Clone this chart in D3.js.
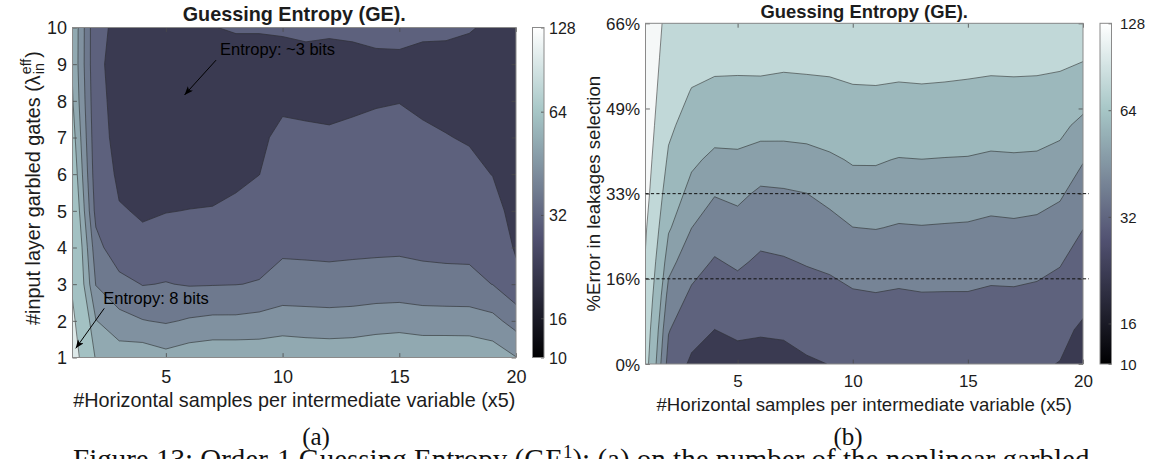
<!DOCTYPE html>
<html>
<head>
<meta charset="utf-8">
<title>Guessing Entropy (GE) contour maps</title>
<script src="https://cdn.jsdelivr.net/npm/d3@7"></script>
<style>
html,body{margin:0;padding:0;background:#ffffff;overflow:hidden;}
svg{display:block;}
</style>
</head>
<body>
<svg id="fig" width="1151" height="459" xmlns="http://www.w3.org/2000/svg"></svg>
<script>
// ======================= DATA =======================
const samplesX = [1,2,3,4,5,6,7,8,9,10,11,12,13,14,15,16,17,18,19,20];
const gatesY = [1,2,3,4,5,6,7,8,9,10];
const errorPctY = [0,6.6,13.2,19.8,26.4,33,39.6,46.2,52.8,59.4,66];

// log2(GE); one inner array per x sample, bottom -> top (y = 1..10)
const geBitsA = [
  [6.74,6.60,6.43,6.40,6.30,6.18,6.07,5.97,5.92,5.93],
  [5.92,5.71,5.44,5.30,5.12,5.05,5.02,5.00,4.98,4.98],
  [5.85,5.52,5.30,5.006,4.96,4.923,4.90,4.896,4.90,4.924],
  [5.867,5.46,5.19,4.977,4.938,4.88,4.83,4.80,4.78,4.78],
  [5.783,5.424,5.209,5.074,4.942,4.85,4.78,4.72,4.70,4.70],
  [5.852,5.473,5.184,5.067,4.955,4.85,4.76,4.70,4.68,4.68],
  [5.885,5.50,5.189,5.076,4.964,4.853,4.76,4.72,4.80,4.944],
  [5.885,5.50,5.195,5.097,4.998,4.90,4.80,4.75,4.85,4.97],
  [5.874,5.526,5.212,5.118,5.033,4.948,4.919,4.78,4.85,4.97],
  [5.892,5.567,5.288,5.162,5.102,5.043,4.99,4.92,4.88,4.973],
  [5.867,5.558,5.281,5.158,5.098,5.038,4.977,4.917,4.86,5.008],
  [5.856,5.551,5.27,5.155,5.093,5.032,4.971,4.91,4.86,4.989],
  [5.865,5.56,5.282,5.16,5.101,5.042,4.983,4.924,4.86,5.008],
  [5.892,5.587,5.297,5.163,5.107,5.051,4.995,4.938,4.87,5.056],
  [5.921,5.596,5.305,5.167,5.112,5.056,5.001,4.946,4.88,5.055],
  [5.888,5.575,5.275,5.156,5.097,5.038,4.979,4.919,4.86,5.008],
  [5.892,5.572,5.265,5.15,5.086,5.022,4.958,4.894,4.84,5.012],
  [5.892,5.567,5.264,5.145,5.074,5.004,4.933,4.86,4.85,4.969],
  [5.846,5.521,5.196,5.112,5.029,4.945,4.86,4.82,4.84,4.906],
  [5.707,5.35,5.017,4.925,4.871,4.82,4.78,4.78,4.80,4.84]
];

// log2(GE); one inner array per x sample, bottom -> top (0% .. 66%)
const geBitsB = [
  [6.409,6.50,6.60,6.69,6.766,6.865,6.925,6.969,7.02,7.064,7.08],
  [5.193,5.328,5.502,5.69,5.883,6.037,6.192,6.33,6.42,6.50,6.58],
  [4.902,5.078,5.254,5.429,5.602,5.752,5.907,6.071,6.235,6.37,6.50],
  [4.794,4.9575,5.121,5.285,5.45,5.615,5.784,5.975,6.181,6.338,6.47],
  [4.843,5.015,5.187,5.354,5.506,5.654,5.796,5.975,6.176,6.334,6.466],
  [4.852,4.989,5.126,5.264,5.41,5.561,5.739,5.945,6.176,6.34,6.472],
  [4.861,5.003,5.145,5.287,5.43,5.574,5.745,5.939,6.155,6.324,6.456],
  [4.925,5.06,5.194,5.328,5.463,5.598,5.7625,5.952,6.168,6.332,6.464],
  [4.965,5.094,5.224,5.362,5.519,5.668,5.81,5.989,6.184,6.338,6.47],
  [5.03,5.154,5.278,5.4325,5.5975,5.733,5.874,6.047,6.221,6.36,6.492],
  [5.03,5.163,5.295,5.452,5.608,5.738,5.874,6.05,6.226,6.364,6.496],
  [5.03,5.154,5.278,5.427,5.584,5.713,5.839,6.021,6.21,6.354,6.486],
  [5.03,5.162,5.294,5.441,5.591,5.72,5.848,6.033,6.219,6.36,6.492],
  [5.03,5.161,5.292,5.437,5.584,5.713,5.839,6.021,6.21,6.354,6.486],
  [5.03,5.161,5.292,5.434,5.578,5.707,5.833,6.011,6.197,6.344,6.476],
  [5.03,5.149,5.268,5.407,5.555,5.685,5.807,5.979,6.178,6.334,6.466],
  [5.03,5.151,5.272,5.414,5.565,5.694,5.815,5.989,6.184,6.338,6.47],
  [4.99,5.119,5.249,5.393,5.548,5.683,5.807,5.979,6.178,6.334,6.466],
  [4.9525,5.03,5.199,5.331,5.486,5.633,5.761,5.919,6.147,6.322,6.454],
  [4.782,4.916,5.049,5.182,5.317,5.467,5.617,5.772,6.011,6.284,6.416]
];

const levelsA = [4.45,4.95,5.2,5.45,5.7,5.95,6.5];
const levelsB = [4.45,4.96,5.31,5.6,5.85,6.25,6.72];

const xTicks = [5,10,15,20];
const yTicksA = [1,2,3,4,5,6,7,8,9,10];
const yTicksB = [0,16.5,33,49.5,66];
const yTickLabelsB = ["0%","16%","33%","49%","66%"];
const refLinesB = [16.5,33];

const cbarDomainBits = [3.62,6.815];
const cbarTickBits = [3.62,4,5,6,6.815];
const cbarTickLabels = ["10","16","32","64","128"];

const annotationsA = [
  {label:"Entropy: ~3 bits", textX:7.32, textY:9.25, fromX:7.15, fromY:9.11, toX:5.80, toY:8.16},
  {label:"Entropy: 8 bits",  textX:2.32, textY:2.47, fromX:2.36, fromY:2.34, toX:1.14, toY:1.25}
];

const titleText = "Guessing Entropy (GE).";
const xLabelText = "#Horizontal samples per intermediate variable (x5)";
const yLabelTextB = "%Error in leakages selection";
const subLabels = ["(a)", "(b)"];
const captionParts = ["Figure 13: Order-1 Guessing Entropy (GE", "1", "): (a) on the number of the nonlinear garbled"];

// ======================= DRAWING =======================
const svg = d3.select("#fig");
const FONT = '"Liberation Sans", Arial, Helvetica, sans-serif';
const SERIF = '"Liberation Serif", "DejaVu Serif", serif';
const TXT = "#1c1c1c";
const FRAME = "#8a8a8a";
const defs = svg.append("defs");

// MATLAB "bone" colormap (64 entries, evaluated continuously)
function bone(t) {
  t = Math.max(0, Math.min(1, t));
  const m = 64, n = 24, k = 1 + t * (m - 1);
  const gray = (k - 1) / (m - 1);
  const hr = Math.min(1, k / n);
  const hg = Math.max(0, Math.min(1, (k - n) / n));
  const hb = Math.max(0, Math.min(1, (k - 2 * n) / (m - 2 * n)));
  return d3.rgb(255 * (7 * gray + hb) / 8, 255 * (7 * gray + hg) / 8, 255 * (7 * gray + hr) / 8);
}
const cNorm = d3.scaleLinear().domain(cbarDomainBits).range([0, 1]).clamp(true);
const fillFor = v => bone(cNorm(v)).formatHex();

const grad = defs.append("linearGradient").attr("id", "boneGrad")
  .attr("x1", 0).attr("y1", 1).attr("x2", 0).attr("y2", 0);
d3.range(0, 65).forEach(k => grad.append("stop").attr("offset", k / 64).attr("stop-color", bone(k / 64).formatHex()));

defs.append("marker").attr("id", "arrowHead").attr("viewBox", "0 0 10 8")
  .attr("refX", 10).attr("refY", 4).attr("markerWidth", 10).attr("markerHeight", 7)
  .attr("markerUnits", "userSpaceOnUse").attr("orient", "auto")
  .append("path").attr("d", "M0,0 L10,4 L0,8 L2.5,4 Z").attr("fill", "#000");

function styleAxis(g, fs) {
  g.attr("font-family", FONT).attr("font-size", fs).style("color", TXT);
  g.select(".domain").remove();
  g.selectAll(".tick line").attr("stroke", "#4a4a4a").attr("stroke-width", 0.8);
}

function drawPanel(o) {
  const g = svg.append("g");
  const [L, R] = o.x.range();
  const [B, T] = o.y.range();
  defs.append("clipPath").attr("id", "clip" + o.id)
    .append("rect").attr("x", L).attr("y", T).attr("width", R - L).attr("height", B - T);

  // ---- filled contours ----
  const nx = o.xs.length, ny = o.ys.length;
  const vals = [];
  for (let j = 0; j < ny; j++) for (let i = 0; i < nx; i++) vals.push(o.grid[i][j]);
  const sx = o.xs[1] - o.xs[0], sy = o.ys[1] - o.ys[0];
  const proj = d3.geoTransform({
    point: function (px, py) {
      this.stream.point(o.x(o.xs[0] + (px - 0.5) * sx), o.y(o.ys[0] + (py - 0.5) * sy));
    }
  });
  const path = d3.geoPath(proj);
  const cs = d3.contours().size([nx, ny]).thresholds(o.levels)(vals);
  const plot = g.append("g").attr("clip-path", `url(#clip${o.id})`);
  plot.selectAll("path.band").data(cs).join("path").attr("class", "band")
    .attr("d", path).attr("fill-rule", "evenodd")
    .attr("fill", d => fillFor(d.value)).attr("stroke", d => fillFor(d.value)).attr("stroke-width", 0.4);
  plot.selectAll("path.iso").data(cs.slice(1)).join("path").attr("class", "iso")
    .attr("d", path).attr("fill", "none")
    .attr("stroke", "#202020").attr("stroke-width", 0.6).attr("stroke-opacity", 0.9);

  // ---- axes (ticks inside, box on) ----
  const tk = 4.4;
  const axB = g.append("g").attr("transform", `translate(0,${B})`)
    .call(d3.axisBottom(o.x).tickValues(xTicks).tickSizeInner(-tk).tickSizeOuter(0).tickFormat(d3.format("d")));
  styleAxis(axB, o.tickFs);
  axB.selectAll("text").attr("y", o.xTickDy).attr("dy", null);
  const axT = g.append("g").attr("transform", `translate(0,${T})`)
    .call(d3.axisTop(o.x).tickValues(xTicks).tickSizeInner(-tk).tickSizeOuter(0).tickFormat(""));
  styleAxis(axT, o.tickFs);
  const axL = g.append("g").attr("transform", `translate(${L},0)`)
    .call(d3.axisLeft(o.y).tickValues(o.yTicks).tickSizeInner(-tk).tickSizeOuter(0).tickPadding(5.5)
      .tickFormat((d, i) => o.yLabels[i]));
  styleAxis(axL, o.tickFs);
  axL.selectAll("text").attr("dy", "0.36em");
  const axR = g.append("g").attr("transform", `translate(${R},0)`)
    .call(d3.axisRight(o.y).tickValues(o.yTicks).tickSizeInner(-tk).tickSizeOuter(0).tickFormat(""));
  styleAxis(axR, o.tickFs);

  g.append("rect").attr("x", L).attr("y", T).attr("width", R - L).attr("height", B - T)
    .attr("fill", "none").attr("stroke", FRAME).attr("stroke-width", 1);

  // ---- title & labels ----
  g.append("text").attr("x", (L + R) / 2).attr("y", o.titleY).attr("text-anchor", "middle")
    .attr("font-family", FONT).attr("font-size", o.titleFs).attr("font-weight", "bold").attr("fill", TXT)
    .text(titleText);
  g.append("text").attr("x", (L + R) / 2).attr("y", o.xLabelY).attr("text-anchor", "middle")
    .attr("font-family", FONT).attr("font-size", o.labelFs).attr("fill", TXT)
    .text(xLabelText);

  // ---- colorbar ----
  const cy = d3.scaleLinear().domain(cbarDomainBits).range([B, T]);
  g.append("rect").attr("x", o.cbX).attr("y", T).attr("width", o.cbW).attr("height", B - T)
    .attr("fill", "url(#boneGrad)");
  const axC = g.append("g").attr("transform", `translate(${o.cbX + o.cbW},0)`)
    .call(d3.axisRight(cy).tickValues(cbarTickBits).tickSizeInner(-3).tickSizeOuter(0)
      .tickPadding(o.cbPad).tickFormat((d, i) => cbarTickLabels[i]));
  styleAxis(axC, o.cbFs);
  axC.selectAll("text").attr("dy", "0.36em");
  g.append("rect").attr("x", o.cbX).attr("y", T).attr("width", o.cbW).attr("height", B - T)
    .attr("fill", "none").attr("stroke", FRAME).attr("stroke-width", 1);
  return g;
}

const xA = d3.scaleLinear([1, 20], [72.5, 516]);
const yA = d3.scaleLinear([1, 10], [357.5, 27.5]);
const xB = d3.scaleLinear([1, 20], [645.5, 1083]);
const yB = d3.scaleLinear([0, 66], [364, 23.3]);

const gA = drawPanel({
  id: "A", xs: samplesX, ys: gatesY, grid: geBitsA, levels: levelsA, x: xA, y: yA,
  yTicks: yTicksA, yLabels: yTicksA.map(String),
  tickFs: 18, labelFs: 19.8, titleFs: 19.8, cbFs: 16,
  titleY: 21, xTickDy: 25.5, xLabelY: 406.5, cbX: 532.5, cbW: 11.5, cbPad: 5
});
const gB = drawPanel({
  id: "B", xs: samplesX, ys: errorPctY, grid: geBitsB, levels: levelsB, x: xB, y: yB,
  yTicks: yTicksB, yLabels: yTickLabelsB,
  tickFs: 17, labelFs: 18.6, titleFs: 18.4, cbFs: 15,
  titleY: 18, xTickDy: 23, xLabelY: 410.5, cbX: 1100, cbW: 11.5, cbPad: 8.5
});

// ---- panel (b) dashed reference lines ----
gB.selectAll("line.ref").data(refLinesB).join("line").attr("class", "ref")
  .attr("x1", xB.range()[0]).attr("x2", xB.range()[1] + 6)
  .attr("y1", d => yB(d)).attr("y2", d => yB(d))
  .attr("stroke", "#111").attr("stroke-width", 1).attr("stroke-dasharray", "3.2,2.2");

// ---- panel (a) annotations ----
gA.selectAll("line.arrow").data(annotationsA).join("line").attr("class", "arrow")
  .attr("x1", d => xA(d.fromX)).attr("y1", d => yA(d.fromY))
  .attr("x2", d => xA(d.toX)).attr("y2", d => yA(d.toY))
  .attr("stroke", "#000").attr("stroke-width", 1).attr("marker-end", "url(#arrowHead)");
gA.selectAll("text.annot").data(annotationsA).join("text").attr("class", "annot")
  .attr("x", d => xA(d.textX)).attr("y", d => yA(d.textY))
  .attr("font-family", FONT).attr("font-size", 16.5).attr("fill", "#000")
  .text(d => d.label);

// ---- y labels ----
(function () {
  const fs = 19.8;
  const g = svg.append("g").attr("font-family", FONT).attr("fill", TXT);
  const t1 = g.append("text").attr("x", 0).attr("y", 0).attr("font-size", fs).text("#input layer garbled gates (λ");
  const w1 = t1.node().getComputedTextLength();
  const sfs = fs * 0.72;
  const tSup = g.append("text").attr("x", w1 + 1).attr("y", -fs * 0.45).attr("font-size", sfs).text("eff");
  const tSub = g.append("text").attr("x", w1 + 1).attr("y", fs * 0.22).attr("font-size", sfs).text("in");
  const ws = Math.max(tSup.node().getComputedTextLength(), tSub.node().getComputedTextLength());
  const t2 = g.append("text").attr("x", w1 + ws + 2).attr("y", 0).attr("font-size", fs).text(")");
  const total = w1 + ws + 2 + t2.node().getComputedTextLength();
  g.attr("transform", `translate(40,${188 + total / 2}) rotate(-90)`);
})();
svg.append("text").attr("transform", `translate(600,${(yB.range()[0] + yB.range()[1]) / 2}) rotate(-90)`)
  .attr("text-anchor", "middle").attr("font-family", FONT).attr("font-size", 18.6).attr("fill", TXT)
  .text(yLabelTextB);

// ---- sub-figure labels and (cropped) caption ----
svg.selectAll("text.sub").data(subLabels).join("text").attr("class", "sub")
  .attr("x", (d, i) => [316, 848][i]).attr("y", 445).attr("text-anchor", "middle")
  .attr("font-family", SERIF).attr("font-size", 25).attr("fill", "#111").text(d => d);
const cap = svg.append("text").attr("x", 73).attr("y", 469)
  .attr("font-family", SERIF).attr("font-size", 29).attr("fill", "#111");
cap.append("tspan").text(captionParts[0]);
cap.append("tspan").attr("dy", -11).attr("font-size", 19).text(captionParts[1]);
cap.append("tspan").attr("dy", 11).text(captionParts[2]);
</script>
</body>
</html>
